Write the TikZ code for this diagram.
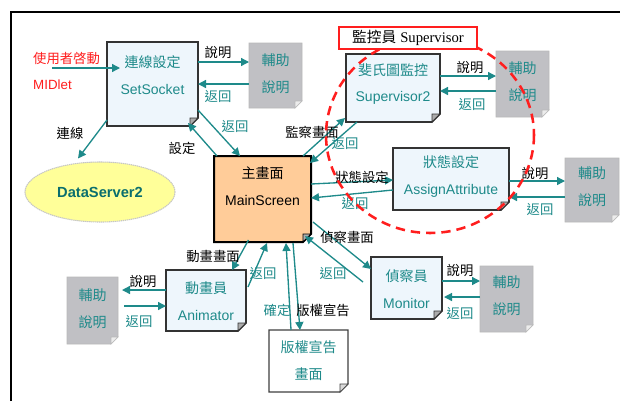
\documentclass[tikz,border=0pt]{standalone}
\usepackage{fontspec}
\setmainfont{Liberation Sans}
\newfontfamily\cjk{Noto Sans CJK TC}
\newfontfamily\serifL{Liberation Serif}
\usetikzlibrary{arrows.meta,shapes.geometric,calc}
\definecolor{tl}{RGB}{30,138,138}
\definecolor{dtl}{RGB}{10,110,110}
\definecolor{boxblue}{RGB}{238,246,252}
\definecolor{hgray}{RGB}{192,192,196}
\definecolor{orng}{RGB}{255,204,153}
\definecolor{ylw}{RGB}{255,255,153}
\definecolor{rd}{RGB}{255,30,30}
\newcommand\foldframe[4]{%
  \path[#2] (#1.north west) -- (#1.north east) -- ([shift={(0,-#4)}]#1.south east) -- ([shift={(-#4,0)}]#1.south east) -- (#1.south west) -- cycle;
  \path[#3] ([shift={(0,-#4)}]#1.south east) -- ([shift={(-#4,-#4)}]#1.south east) -- ([shift={(-#4,0)}]#1.south east) -- cycle;}
\tikzset{
  bx/.style={rectangle, draw=none, inner sep=0pt, outer sep=0pt},
  sz/.style 2 args={minimum width={#1*0.75pt}, minimum height={#2*0.75pt}},
  bt/.style={text=tl, align=center, font=\fontsize{10.5}{20}\selectfont, inner sep=0pt},
  btc/.style={bt, font=\cjk\fontsize{10.5}{20}\selectfont},
  lb/.style={font=\cjk\fontsize{10}{12}\selectfont, inner sep=0pt},
  lt/.style={lb, text=tl},
  arr/.style={draw=tl, line width=1pt, -{Triangle[length=6pt,width=6pt]}},
  blueframe/.style={fill=boxblue, draw=black!80, line width=1.3pt},
  bluefold/.style={fill=gray!65, draw=black!80, line width=0.6pt},
  grayframe/.style={fill=hgray, draw=gray!55, line width=0.5pt},
  grayfold/.style={fill=gray!15, draw=gray!55, line width=0.5pt},
  orangeframe/.style={fill=orng, draw=black, line width=1.5pt},
  orangefold/.style={fill=gray!65, draw=black, line width=0.6pt},
  whiteframe/.style={fill=white, draw=black!75, line width=0.9pt},
  whitefold/.style={fill=gray!30, draw=black!75, line width=0.5pt}
}
\begin{document}
\begin{tikzpicture}[x=0.75pt,y=-0.75pt]
\useasboundingbox (0,0) rectangle (620,401);
\fill[white] (0,0) rectangle (620,401);
\draw[line width=1pt] (11,401) -- (11,12) -- (620,12);

% boxes
\node[bx, sz={91}{84}] (ss) at (152.5,84) {};
\node[bx, sz={53}{65}] (h1) at (275.5,75.5) {};
\node[bx, sz={97}{86}] (ms) at (262.5,199) {};
\node[bx, sz={94}{68}] (sv) at (393,88) {};
\node[bx, sz={53}{66}] (h2) at (522.5,84) {};
\node[bx, sz={116}{62}] (aa) at (451,179) {};
\node[bx, sz={54}{64}] (h3) at (592,190) {};
\node[bx, sz={71}{62}] (mo) at (406.5,288) {};
\node[bx, sz={53}{66}] (h4) at (506.5,299) {};
\node[bx, sz={80}{61}] (an) at (206,300.5) {};
\node[bx, sz={51}{67}] (h5) at (92.5,310.5) {};
\node[bx, sz={79}{62}] (cp) at (308.5,361) {};

\foldframe{ss}{blueframe}{bluefold}{8}
\foldframe{h1}{grayframe}{grayfold}{7}
\foldframe{ms}{orangeframe}{orangefold}{8}
\foldframe{sv}{blueframe}{bluefold}{8}
\foldframe{h2}{grayframe}{grayfold}{7}
\foldframe{aa}{blueframe}{bluefold}{8}
\foldframe{h3}{grayframe}{grayfold}{7}
\foldframe{mo}{blueframe}{bluefold}{8}
\foldframe{h4}{grayframe}{grayfold}{7}
\foldframe{an}{blueframe}{bluefold}{8}
\foldframe{h5}{grayframe}{grayfold}{7}
\foldframe{cp}{whiteframe}{whitefold}{8}

\node[ellipse, fill=ylw, draw=gray!45, line width=0.8pt, dash pattern=on 1pt off 0.5pt, inner sep=0pt, sz={150}{60}, text=dtl, font=\bfseries\fontsize{11}{13}\selectfont] (ds) at (100,192) {DataServer2};

% box texts
\node[bt] (ss-t) at (152.5,75) {{\cjk 連線設定}\\SetSocket};
\node[btc] (h1-t) at (275.5,74) {輔助\\說明};
\node[bt, text=black] (ms-t) at (262.5,186.5) {{\cjk 主畫面}\\MainScreen};
\node[bt] (sv-t) at (393,84) {{\cjk 斐氏圖監控}\\Supervisor2};
\node[btc] (h2-t) at (522.5,81.5) {輔助\\說明};
\node[bt] (aa-t) at (451,176.5) {{\cjk 狀態設定}\\AssignAttribute};
\node[btc] (h3-t) at (592,187) {輔助\\說明};
\node[bt] (mo-t) at (406.5,289) {{\cjk 偵察員}\\Monitor};
\node[btc] (h4-t) at (506.5,295.5) {輔助\\說明};
\node[bt] (an-t) at (206,301.5) {{\cjk 動畫員}\\Animator};
\node[btc] (h5-t) at (92.5,308.5) {輔助\\說明};
\node[btc] (cp-t) at (308.5,360.5) {版權宣告\\畫面};

% red start labels
\node[lb, text=rd] (start-t) at (66.5,58) {使用者啓動};
\node[inner sep=0pt, text=rd, font=\fontsize{10}{12}\selectfont] (midlet) at (52.5,85) {MIDlet};
\coordinate (st) at (52,68);

% connectors
\draw[arr] (st) -- ($(ss.west |- st)+(13,0)$);
\draw[arr] (ss.east |- 0,62) -- (h1.west |- 0,62);
\draw[arr] (h1.west |- 0,84) -- (ss.east |- 0,84);
\draw[arr] ([shift={(0,-6)}]ss.south west) -- ([shift={(-22,-3)}]ds.north);
\draw[arr] ([shift={(3,0)}]ms.north west) -- ([shift={(-10,-3)}]ss.south east);
\draw[arr] ([shift={(0,-16)}]ss.south east) -- ([shift={(26,0)}]ms.north west);
\draw[arr] ([shift={(-8,0)}]ms.north east) -- ([shift={(-1,-4)}]sv.south west);
\draw[arr] ([shift={(11,0)}]sv.south west) -- ([shift={(-1,7)}]ms.north east);
\draw[arr] (ms.east |- 0,184) -- (aa.west |- 0,180);
\draw[arr] (aa.west |- 0,190) -- (ms.east |- 0,198);
\draw[arr] (sv.east |- 0,76) -- (h2.west |- 0,76);
\draw[arr] (h2.west |- 0,91) -- (sv.east |- 0,91);
\draw[arr] (aa.east |- 0,181) -- (h3.west |- 0,181);
\draw[arr] (h3.west |- 0,197) -- (aa.east |- 0,197);
\draw[arr] ([shift={(2,-20)}]ms.south east) -- (mo.west |- 0,269);
\draw[arr] ($(mo.west |- 0,282)+(-8,0)$) -- ([shift={(-6,-6)}]ms.south east);
\draw[arr] (mo.east |- 0,281) -- (h4.west |- 0,281);
\draw[arr] (h4.west |- 0,297) -- ($(mo.east |- 0,297)+(2,0)$);
\draw[arr] ([shift={(-14,-2)}]ms.south) -- ([shift={(-14,0)}]an.north east);
\draw[arr] ([shift={(2,-13.5)}]an.east) -- ([shift={(4.5,1)}]ms.south);
\draw[arr] (an.west |- 0,290) -- ($(h5.east |- 0,290)+(4,0)$);
\draw[arr] ($(h5.east |- 0,306)+(6,0)$) -- (an.west |- 0,306);
\draw[arr] ([shift={(22,0)}]cp.north west) -- ([shift={(23.5,1)}]ms.south);
\draw[arr] ([shift={(30.5,1)}]ms.south) -- ([shift={(31,0)}]cp.north west);

% connector labels
\node[lb] (l1) at (218,53) {說明};
\node[lt] (l2) at (218,96) {返回};
\node[lb] (l3) at (70,133) {連線};
\node[lb] (l4) at (182,148) {設定};
\node[lt] (l5) at (235,126) {返回};
\node[lb] (l6) at (312,132) {監察畫面};
\node[lt] (l7) at (345,143) {返回};
\node[lb] (l8) at (470,68) {說明};
\node[lt] (l9) at (472,104) {返回};
\node[lb] (l10) at (362,177) {狀態設定};
\node[lt] (l11) at (355,203) {返回};
\node[lb] (l12) at (535,173) {說明};
\node[lt] (l13) at (540,209) {返回};
\node[lb] (l14) at (347,237) {偵察畫面};
\node[lt] (l15) at (333,273) {返回};
\node[lb] (l16) at (460,270) {說明};
\node[lt] (l17) at (460,313) {返回};
\node[lb] (l18) at (213,256) {動畫畫面};
\node[lt] (l19) at (263,273) {返回};
\node[lb] (l20) at (143,281) {說明};
\node[lt] (l21) at (139,321) {返回};
\node[lt] (l22) at (277,310) {確定};
\node[lb] (l23) at (323,310) {版權宣告};

% supervisor group
\draw[rd, line width=1.9pt, dash pattern=on 7pt off 4.5pt] (430,135) ellipse [x radius=104, y radius=98];
\node[draw=rd, line width=1pt, fill=white, inner sep=0pt, sz={138}{22}, font=\fontsize{11}{13}\selectfont] (sup) at (408,38) {{\cjk 監控員} {\serifL Supervisor}};
\end{tikzpicture}
\end{document}
